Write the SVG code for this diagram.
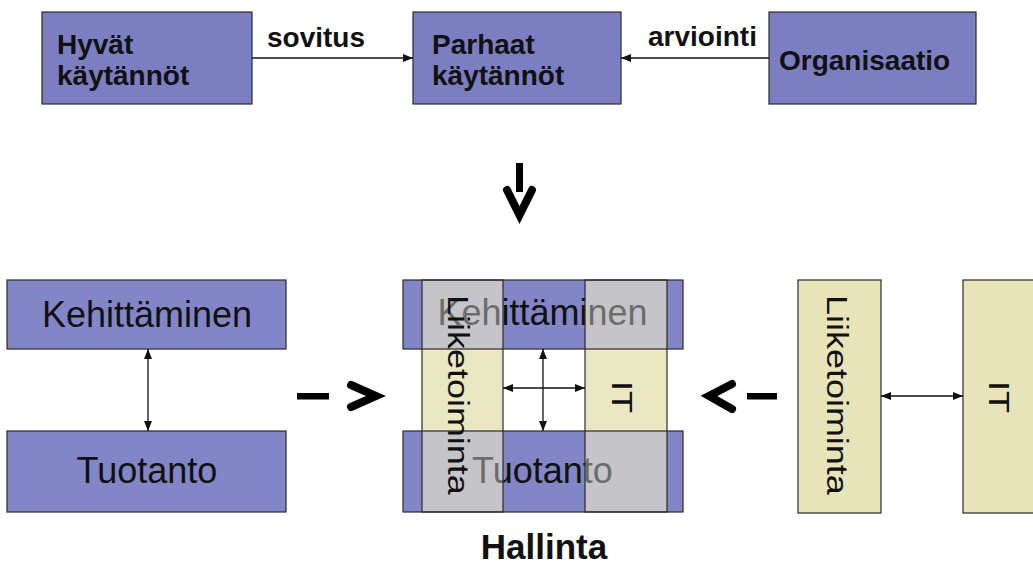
<svg xmlns="http://www.w3.org/2000/svg" width="1033" height="567" viewBox="0 0 1033 567">
  <style>
    .blue { fill: #7b7ec1; stroke: #2a2a2a; stroke-width: 1.2; }
    .blue2 { fill: #8285c6; stroke: #2a2a2a; stroke-width: 1.2; }
    .yel { fill: #e6e4b8; stroke: #2a2a2a; stroke-width: 1.2; }
    .outline { fill: none; stroke: #2a2a2a; stroke-width: 1.2; }
    .bold { font-family: "Liberation Sans", Arial, sans-serif; font-weight: bold; font-size: 28px; fill: #111; }
    .reg { font-family: "Liberation Sans", Arial, sans-serif; font-size: 36px; fill: #111; }
    .vert { font-family: "Liberation Sans", Arial, sans-serif; font-size: 29px; fill: #111; }
    .conn { stroke: #111; stroke-width: 1.3; fill: none; }
    .big { stroke: #000; stroke-width: 8; fill: none; stroke-linejoin: miter; stroke-linecap: round; }
  </style>
  <defs>
    <marker id="ah" viewBox="0 0 10 8" refX="10" refY="4" markerWidth="10" markerHeight="8" markerUnits="userSpaceOnUse" orient="auto-start-reverse">
      <path d="M0,0 L10,4 L0,8 z" fill="#111"/>
    </marker>
    <linearGradient id="tg" gradientUnits="userSpaceOnUse" x1="403" y1="0" x2="683" y2="0">
      <stop offset="0" stop-color="#6c6c6c"/>
      <stop offset="0.357" stop-color="#6c6c6c"/>
      <stop offset="0.357" stop-color="#111"/>
      <stop offset="0.65" stop-color="#111"/>
      <stop offset="0.65" stop-color="#6c6c6c"/>
      <stop offset="1" stop-color="#6c6c6c"/>
    </linearGradient>
  </defs>
  <rect width="1033" height="567" fill="#fff"/>

  <!-- top row -->
  <g id="hyvat">
    <rect class="blue" x="42" y="12" width="210" height="92"/>
    <text class="bold" x="57" y="54">Hyvät</text>
    <text class="bold" x="57" y="85">käytännöt</text>
  </g>
  <g id="parhaat">
    <rect class="blue" x="413" y="12" width="208" height="92"/>
    <text class="bold" x="432" y="54">Parhaat</text>
    <text class="bold" x="432" y="85">käytännöt</text>
  </g>
  <g id="organisaatio">
    <rect class="blue" x="769" y="12" width="207" height="92"/>
    <text class="bold" x="779" y="70">Organisaatio</text>
  </g>

  <!-- bottom left -->
  <g id="kehittaminen">
    <rect class="blue2" x="7" y="280" width="279" height="69"/>
    <text class="reg" x="147" y="327" text-anchor="middle">Kehittäminen</text>
  </g>
  <g id="tuotanto">
    <rect class="blue2" x="7" y="431" width="279" height="81"/>
    <text class="reg" x="147" y="483" text-anchor="middle">Tuotanto</text>
  </g>

  <!-- composite -->
  <g id="hallinta">
    <rect x="403" y="280" width="280" height="69" fill="#8285c6"/>
    <rect x="403" y="431" width="280" height="81" fill="#8285c6"/>
    <rect x="422" y="280" width="81" height="69" fill="#c5c5c9"/>
    <rect x="585" y="280" width="82" height="69" fill="#c5c5c9"/>
    <rect x="422" y="431" width="81" height="81" fill="#c5c5c9"/>
    <rect x="585" y="431" width="82" height="81" fill="#c5c5c9"/>
    <rect x="422" y="349" width="81" height="82" fill="#eae8c2"/>
    <rect x="585" y="349" width="82" height="82" fill="#eae8c2"/>
    <text class="reg" x="542.5" y="325" text-anchor="middle" style="fill:url(#tg)">Kehittäminen</text>
    <text class="reg" x="542.5" y="483" text-anchor="middle" style="fill:url(#tg)">Tuotanto</text>
    <rect class="outline" x="403" y="280" width="280" height="69"/>
    <rect class="outline" x="403" y="431" width="280" height="81"/>
    <rect class="outline" x="422" y="280" width="81" height="232"/>
    <rect class="outline" x="585" y="280" width="82" height="232"/>
    <text class="vert" transform="translate(448,295) rotate(90) scale(1.24,1)">Liiketoiminta</text>
    <text class="vert" transform="translate(612,381) rotate(90) scale(1.24,1)">IT</text>
    <text class="bold" x="544" y="559" text-anchor="middle" style="font-size:35px">Hallinta</text>
  </g>

  <!-- bottom right -->
  <g id="liiketoiminta">
    <rect class="yel" x="798" y="280" width="83" height="233"/>
    <text class="vert" transform="translate(827,295) rotate(90) scale(1.24,1)">Liiketoiminta</text>
  </g>
  <g id="it">
    <rect class="yel" x="963" y="280" width="84" height="233"/>
    <text class="vert" transform="translate(989,381) rotate(90) scale(1.24,1)">IT</text>
  </g>

  <!-- connectors -->
  <g id="connectors">
    <line class="conn" x1="252" y1="58" x2="413" y2="58" marker-end="url(#ah)"/>
    <text class="bold" x="267" y="47">sovitus</text>
    <line class="conn" x1="769" y1="58" x2="621" y2="58" marker-end="url(#ah)"/>
    <text class="bold" x="648" y="46">arviointi</text>

    <line class="conn" x1="148" y1="349" x2="148" y2="431" marker-start="url(#ah)" marker-end="url(#ah)"/>
    <line class="conn" x1="881" y1="396" x2="963" y2="396" marker-start="url(#ah)" marker-end="url(#ah)"/>
    <line class="conn" x1="503" y1="388" x2="585" y2="388" marker-start="url(#ah)" marker-end="url(#ah)"/>
    <line class="conn" x1="543" y1="349" x2="543" y2="431" marker-start="url(#ah)" marker-end="url(#ah)"/>

    <!-- big arrows -->
    <rect x="516" y="163" width="7" height="29" fill="#000"/>
    <polyline class="big" points="507,190 519.5,215 532,190"/>
    <rect x="297" y="393" width="32" height="6.5" fill="#000"/>
    <polyline class="big" points="351,385 376,396 351,407"/>
    <rect x="747" y="393" width="30" height="6.5" fill="#000"/>
    <polyline class="big" points="732,384 709,396 732,409"/>
  </g>
</svg>
